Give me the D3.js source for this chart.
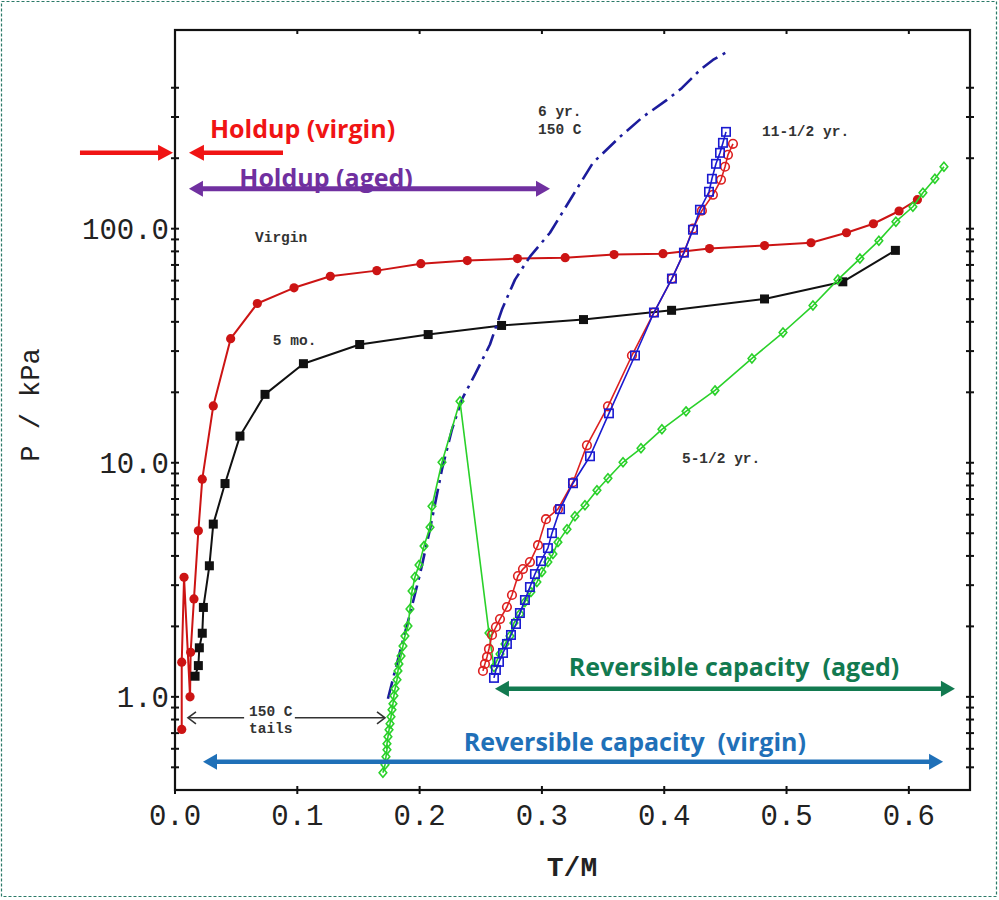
<!DOCTYPE html>
<html><head><meta charset="utf-8">
<script src="https://cdn.jsdelivr.net/npm/d3@7"></script>
<style>body{margin:0;background:#fff}svg{display:block}</style>
</head><body>
<svg id="chart" width="999" height="900"></svg>
<script>
// ---------- DATA ----------
const xTicks = [0, 0.1, 0.2, 0.3, 0.4, 0.5, 0.6];
const xTickLabels = ["0.0","0.1","0.2","0.3","0.4","0.5","0.6"];
const yMajorTicks = [1, 10, 100];
const yMajorLabels = ["1.0","10.0","100.0"];
const yMinorTicks = [0.5,0.6,0.7,0.8,0.9,2,3,4,5,6,7,8,9,20,30,40,50,60,70,80,90,200,300,400];

// Virgin (red filled circles)
const virginX = [0.0055,0.0055,0.0074,0.0123,0.0128,0.0155,0.0191,0.0223,0.0313,0.0455,0.0673,0.0973,0.127,0.165,0.201,0.239,0.280,0.319,0.359,0.399,0.437,0.482,0.520,0.549,0.571,0.592,0.607];
const virginP = [0.726,1.406,3.24,1.0,1.55,2.62,5.12,8.51,17.5,33.9,47.9,55.9,62.6,66.2,70.9,73.1,74.5,75.2,77.5,78.2,82.2,84.7,87.1,96.1,105,119,133];

// 5 mo. (black filled squares)
const fiveMoX = [0.0164,0.0191,0.0199,0.0223,0.0232,0.0281,0.0313,0.0409,0.0531,0.0736,0.105,0.151,0.207,0.267,0.334,0.406,0.482,0.546,0.589];
const fiveMoP = [1.225,1.36,1.62,1.87,2.41,3.63,5.47,8.15,13.0,19.6,26.5,32.0,35.3,38.6,40.9,44.8,50.1,59.3,80.8];

// 11-1/2 yr. (red open circles)
const elevenRedX = [0.2518,0.2534,0.2551,0.2567,0.2592,0.2624,0.2657,0.2714,0.2755,0.2804,0.2845,0.2902,0.2968,0.3033,0.3131,0.3254,0.3368,0.3540,0.3736,0.3916,0.4063,0.4161,0.4235,0.4308,0.4398,0.4464,0.4497,0.4521,0.4562];
const elevenRedP = [1.291,1.383,1.481,1.602,1.838,1.988,2.150,2.420,2.723,3.281,3.515,3.764,4.448,5.742,6.336,8.257,11.87,17.42,28.73,43.84,61.22,79.0,100,119.4,139.6,161.8,183.9,206.8,230.4];

// 11-1/2 yr. (blue open squares)
const elevenBlueX = [0.2608,0.2624,0.2649,0.2682,0.2714,0.2747,0.2788,0.2820,0.2861,0.2902,0.2943,0.2992,0.3049,0.3082,0.3148,0.3254,0.3393,0.3548,0.3761,0.3916,0.4063,0.4161,0.4235,0.4292,0.4366,0.4390,0.4423,0.4456,0.4480,0.4505];
const elevenBlueP = [1.205,1.303,1.410,1.540,1.683,1.838,2.048,2.281,2.592,2.945,3.346,3.802,4.319,5.005,6.336,8.177,10.66,16.26,28.73,43.84,61.22,79.0,99.0,120.5,143.8,163.4,189.3,210.9,232.7,259.2];

// 5-1/2 yr. (green open diamonds)
const fiveHalfX = [0.1700,0.1717,0.1725,0.1733,0.1733,0.1741,0.1750,0.1758,0.1766,0.1774,0.1782,0.1790,0.1799,0.1815,0.1823,0.1831,0.1848,0.1864,0.1880,0.1905,0.1921,0.1938,0.1962,0.1995,0.2036,0.2085,0.2101,0.2183,0.2330,
  0.2567,0.2608,0.2657,0.2698,0.2739,0.2771,0.2820,0.2861,0.2910,0.2959,0.3000,0.3049,0.3090,0.3131,0.3205,0.3270,0.3352,0.3450,0.3540,0.3663,0.3810,0.3981,0.4178,0.4415,0.4717,0.4971,0.5216,0.5420,0.5600,0.5755,0.5894,0.6033,0.6115,0.6213,0.6287];
const fiveHalfP = [0.474,0.513,0.555,0.594,0.630,0.675,0.723,0.767,0.822,0.880,0.934,1.010,1.082,1.182,1.291,1.383,1.496,1.650,1.820,2.008,2.373,2.832,3.250,3.655,4.405,5.308,6.523,10.05,18.30,
  1.875,1.342,1.525,1.683,1.820,2.068,2.259,2.542,2.804,3.093,3.412,3.764,4.072,4.581,5.205,5.913,6.589,7.632,8.588,10.05,11.53,13.90,16.58,20.38,27.91,36.01,46.95,60.6,74.5,88.9,107.1,124.1,142.4,163.4,183.9];

// 6 yr. 150 C (blue dash-dot line)
const sixYrX = [0.1741,0.1799,0.1856,0.1921,0.2003,0.2085,0.2183,0.2265,0.2346,0.2453,0.2575,0.2673,0.2780,0.2902,0.3066,0.3246,0.3417,0.3638,0.3826,0.4022,0.4145,0.4292,0.4398,0.4513];
const sixYrP = [0.981,1.291,1.683,2.259,3.346,5.205,9.383,13.90,18.66,23.85,32.01,45.14,60.6,75.97,96.1,136.9,191.2,246.8,300.4,354.9,399.3,476.4,525.7,568.6];

// Small curve labels (monospace)
const labelText = ["Virgin","5 mo.","6 yr.","150 C","11-1/2 yr.","5-1/2 yr.","150 C","tails"];
const labelX = [0.0654,0.080,0.2968,0.2968,0.480,0.4145,0.0605,0.0605];
const labelP = [88,31.7,303,254,249,9.95,0.830,0.702];

// ---------- LAYOUT ----------
const svg = d3.select("#chart");
const L = 175, R = 970, T = 30, B = 790;
const x = d3.scaleLinear().domain([0, 0.65]).range([L, R]);
const y = d3.scaleLog().domain([0.4, 706]).range([B, T]);
const zip = (xs, ps) => xs.map((v, i) => [v, ps[i]]);
const line = d3.line().x(d => x(d[0])).y(d => y(d[1]));

svg.append("rect").attr("x",0).attr("y",0).attr("width",999).attr("height",900).attr("fill","#fff");
svg.append("rect").attr("x",1.5).attr("y",1.5).attr("width",995).attr("height",895)
  .attr("fill","none").attr("stroke","#2b7a68").attr("stroke-width",1.2).attr("stroke-dasharray","3,2");

// Axes frame
const axisG = svg.append("g");
axisG.append("rect").attr("x",L).attr("y",T).attr("width",R-L).attr("height",B-T)
  .attr("fill","none").attr("stroke","#111").attr("stroke-width",2.2);

const mono = "'Liberation Mono','DejaVu Sans Mono',monospace";
xTicks.forEach((t, i) => {
  axisG.append("line").attr("x1",x(t)).attr("x2",x(t)).attr("y1",B-4).attr("y2",B+4).attr("stroke","#111").attr("stroke-width",2);
  axisG.append("line").attr("x1",x(t)).attr("x2",x(t)).attr("y1",T).attr("y2",T+4).attr("stroke","#111").attr("stroke-width",2);
  axisG.append("text").attr("x",x(t)).attr("y",B+35).attr("text-anchor","middle")
    .attr("font-family",mono).attr("font-size",29).attr("fill","#222").text(xTickLabels[i]);
});
yMajorTicks.concat(yMinorTicks).forEach(t => {
  [L, R].forEach(px => {
    axisG.append("line").attr("x1",px-4).attr("x2",px+4).attr("y1",y(t)).attr("y2",y(t)).attr("stroke","#111").attr("stroke-width",2);
  });
});
yMajorTicks.forEach((t, i) => {
  axisG.append("text").attr("x",L-6).attr("y",y(t)).attr("dy","0.35em").attr("text-anchor","end")
    .attr("font-family",mono).attr("font-size",29).attr("fill","#222").text(yMajorLabels[i]);
});
svg.append("text").attr("x",572).attr("y",876).attr("text-anchor","middle")
  .attr("font-family",mono).attr("font-weight","bold").attr("font-size",28).attr("fill","#222").text("T/M");
svg.append("text").attr("transform","translate(39,405) rotate(-90)").attr("text-anchor","middle")
  .attr("font-family",mono).attr("font-size",27).attr("fill","#222").text("P / kPa");

// ---------- SERIES ----------
const plot = svg.append("g");
function drawLine(data, color, w, dash) {
  const p = plot.append("path").datum(data).attr("d", line).attr("fill","none")
    .attr("stroke", color).attr("stroke-width", w).attr("stroke-linejoin","round");
  if (dash) p.attr("stroke-dasharray", dash);
}
const virgin = zip(virginX, virginP);
drawLine(virgin, "#cc1414", 2);
plot.selectAll(".vc").data(virgin).join("circle").attr("cx",d=>x(d[0])).attr("cy",d=>y(d[1])).attr("r",4.6).attr("fill","#cc1414");
const fiveMo = zip(fiveMoX, fiveMoP);
drawLine(fiveMo, "#111", 2);
plot.selectAll(".fm").data(fiveMo).join("rect").attr("x",d=>x(d[0])-4.5).attr("y",d=>y(d[1])-4.5).attr("width",9).attr("height",9).attr("fill","#111");
drawLine(zip(sixYrX, sixYrP), "#1c1c9c", 2.6, "18,6,3,6");
const fiveHalf = zip(fiveHalfX, fiveHalfP);
drawLine(fiveHalf, "#2ad12a", 1.6);
plot.selectAll(".gd").data(fiveHalf).join("path")
  .attr("d", d => { const cx = x(d[0]), cy = y(d[1]); return `M${cx},${cy-4.5}L${cx+3.8},${cy}L${cx},${cy+4.5}L${cx-3.8},${cy}Z`; })
  .attr("fill","none").attr("stroke","#2ad12a").attr("stroke-width",1.6);
const elevenRed = zip(elevenRedX, elevenRedP);
drawLine(elevenRed, "#dd2020", 1.6);
plot.selectAll(".rc").data(elevenRed).join("circle").attr("cx",d=>x(d[0])).attr("cy",d=>y(d[1])).attr("r",4.3)
  .attr("fill","none").attr("stroke","#dd2020").attr("stroke-width",1.6);
const elevenBlue = zip(elevenBlueX, elevenBlueP);
drawLine(elevenBlue, "#1a1ad0", 1.6);
plot.selectAll(".bs").data(elevenBlue).join("rect").attr("x",d=>x(d[0])-4.2).attr("y",d=>y(d[1])-4.2).attr("width",8.4).attr("height",8.4)
  .attr("fill","none").attr("stroke","#1a1ad0").attr("stroke-width",1.6);

labelText.forEach((t, i) => {
  svg.append("text").attr("x",x(labelX[i])).attr("y",y(labelP[i]))
    .attr("font-family",mono).attr("font-size",14.5).attr("font-weight","bold").attr("fill","#333").text(t);
});

// ---------- ANNOTATION ARROWS ----------
function head(g, tipX, tipY, dirX, len, half, color) {
  g.append("path").attr("d", `M${tipX},${tipY}L${tipX - dirX*len},${tipY-half}L${tipX - dirX*len},${tipY+half}Z`).attr("fill", color);
}
function hArrow(x1, x2, yv, color, w, len, half, startHead, endHead) {
  const g = svg.append("g");
  const px1 = x(x1), px2 = x(x2), py = y(yv);
  const dir = px2 > px1 ? 1 : -1;
  g.append("line").attr("x1", startHead ? px1 + dir*len*0.8 : px1).attr("x2", endHead ? px2 - dir*len*0.8 : px2)
    .attr("y1", py).attr("y2", py).attr("stroke", color).attr("stroke-width", w);
  if (endHead) head(g, px2, py, dir, len, half, color);
  if (startHead) head(g, px1, py, -dir, len, half, color);
}
const sans = "'Open Sans','Noto Sans',Lato,sans-serif";
hArrow(-0.0777, -0.0016, 211, "#f01414", 4.5, 15, 8, false, true);
hArrow(0.0883, 0.0114, 211, "#f01414", 4.5, 15, 8, false, true);
svg.append("text").attr("x", x(0.0286)).attr("y", y(244)).attr("font-family",sans).attr("font-weight","bold")
  .attr("font-size",25).attr("fill","#f01414").text("Holdup (virgin)");
hArrow(0.0114, 0.3066, 148, "#7030a0", 5, 14, 8, true, true);
svg.append("text").attr("x", x(0.1235)).attr("y", y(150)).attr("text-anchor","middle").attr("font-family",sans).attr("font-weight","bold")
  .attr("font-size",25).attr("fill","#7030a0").text("Holdup (aged)");
hArrow(0.2616, 0.6377, 1.082, "#127a50", 4.5, 14, 8, true, true);
svg.append("text").attr("x", x(0.457)).attr("y", y(1.229)).attr("text-anchor","middle").attr("font-family",sans).attr("font-weight","bold")
  .attr("font-size",25).attr("fill","#127a50").attr("xml:space","preserve").text("Reversible capacity  (aged)");
hArrow(0.0229, 0.628, 0.528, "#1f70b8", 4.5, 14, 8, true, true);
svg.append("text").attr("x", x(0.376)).attr("y", y(0.589)).attr("text-anchor","middle").attr("font-family",sans).attr("font-weight","bold")
  .attr("font-size",25).attr("fill","#1f70b8").attr("xml:space","preserve").text("Reversible capacity  (virgin)");

(function () {
  const g = svg.append("g").attr("stroke","#333").attr("stroke-width",1.6).attr("fill","none");
  const yv = y(0.814), a = x(0.0106), b = x(0.1717);
  g.append("line").attr("x1",a).attr("x2",x(0.0565)).attr("y1",yv).attr("y2",yv);
  g.append("line").attr("x1",x(0.098)).attr("x2",b).attr("y1",yv).attr("y2",yv);
  g.append("path").attr("d",`M${a+8},${yv-6}L${a},${yv}L${a+8},${yv+6}`);
  g.append("path").attr("d",`M${b-8},${yv-6}L${b},${yv}L${b-8},${yv+6}`);
})();
</script>
</body></html>
